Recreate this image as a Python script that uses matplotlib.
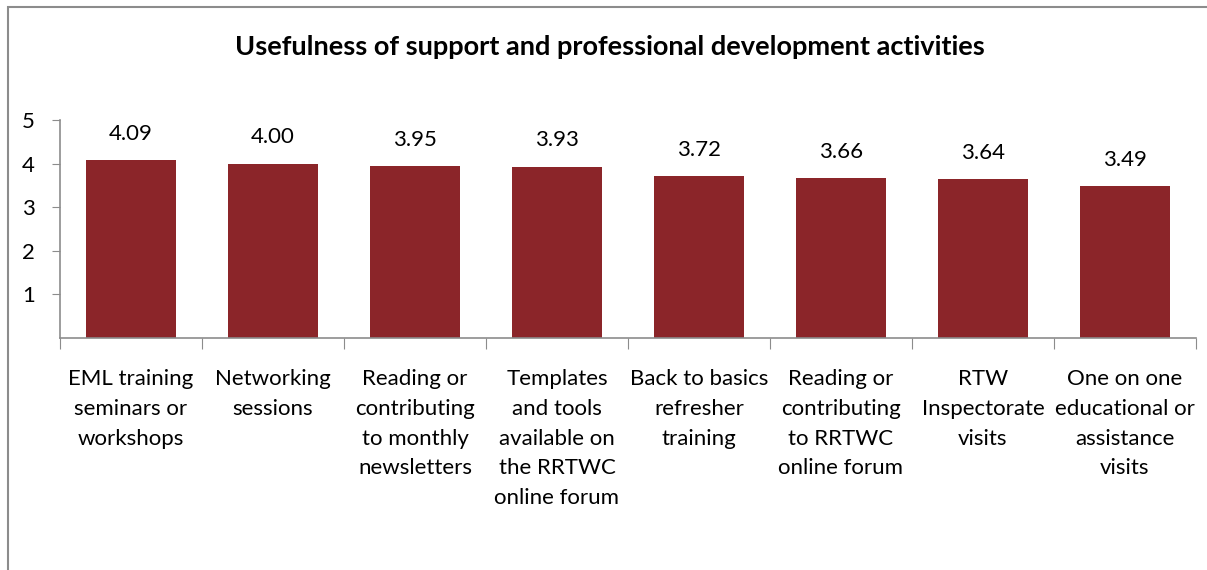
import matplotlib.pyplot as plt
import numpy as np
from matplotlib.patches import Rectangle

categories = [
    "EML training\nseminars or\nworkshops",
    "Networking\nsessions",
    "Reading or\ncontributing\nto monthly\nnewsletters",
    "Templates\nand tools\navailable on\nthe RRTWC\nonline forum",
    "Back to basics\nrefresher\ntraining",
    "Reading or\ncontributing\nto RRTWC\nonline forum",
    "RTW\nInspectorate\nvisits",
    "One on one\neducational or\nassistance\nvisits",
]
scores = [4.09, 4.00, 3.95, 3.93, 3.72, 3.66, 3.64, 3.49]
y_ticks = [1, 2, 3, 4, 5]

plt.rcParams["font.family"] = ["Lato", "DejaVu Sans"]

W, H = 1207, 570
fig = plt.figure(figsize=(W / 100, H / 100), dpi=100)

# chart border (cut off at right and bottom in the original)
fig.patches.append(Rectangle((8 / W, -0.1), 1.2, 1 - 7 / H + 0.1,
                             transform=fig.transFigure, fill=False,
                             edgecolor="#8c8c8c", linewidth=1.5))

ax = fig.add_axes([60 / W, 1 - 338 / H, (1196 - 60) / W, 218 / H])
x = np.arange(len(scores))
ax.bar(x, scores, width=0.63, color="#8B2529")
for xi, v in zip(x, scores):
    ax.text(xi, v + 0.6, f"{v:.2f}", ha="center", va="center", fontsize=16)

ax.set_xlim(-0.5, len(scores) - 0.5)
ax.set_ylim(0, 5)
ax.set_yticks(y_ticks)
ax.set_yticklabels([str(t) for t in y_ticks], fontsize=16)
ax.set_xticks(np.arange(len(scores) + 1) - 0.5)
ax.set_xticklabels([])
ax.tick_params(axis="x", length=8, color="#8c8c8c", direction="out")
ax.tick_params(axis="y", length=6, color="#8c8c8c", direction="out", pad=12)
for s in ["top", "right"]:
    ax.spines[s].set_visible(False)
for s in ["left", "bottom"]:
    ax.spines[s].set_color("#8c8c8c")
    ax.spines[s].set_linewidth(1.2)

for xi, lab in zip(x, categories):
    ax.text(xi, -0.72, lab, ha="center", va="top", fontsize=16,
            linespacing=1.6)

fig.text(610 / W, 1 - 47 / H, "Usefulness of support and professional development activities",
         ha="center", va="center", fontsize=19.5, fontweight="bold")

fig.savefig("out.png", dpi=100)
